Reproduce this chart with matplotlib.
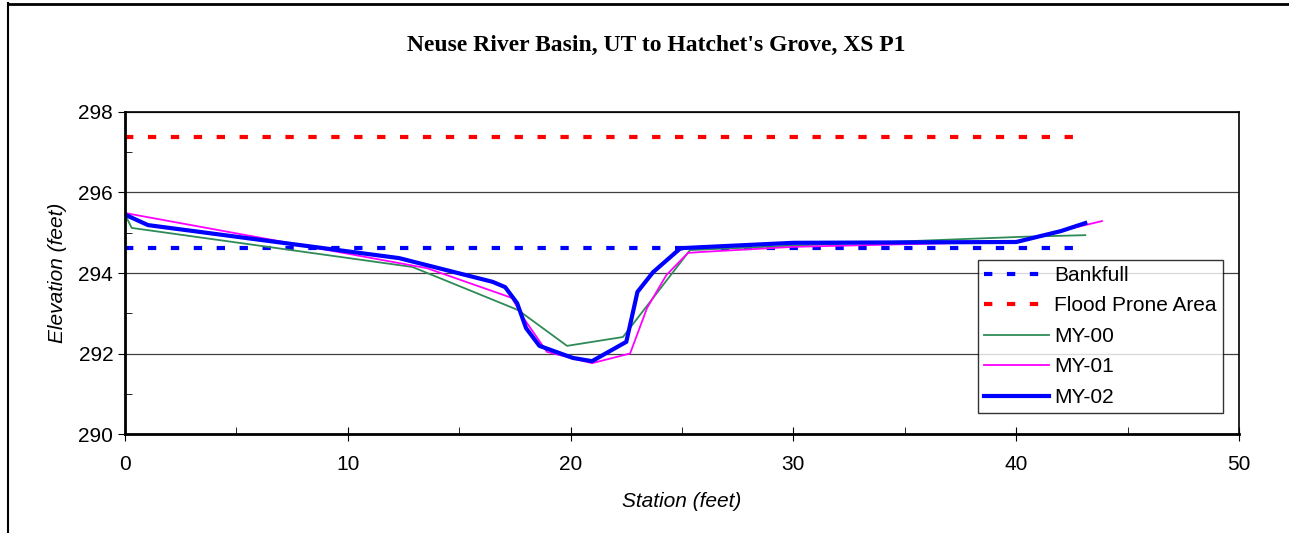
import matplotlib
matplotlib.use('Agg')
from matplotlib import pyplot as plt
from matplotlib.lines import Line2D

plt.rcParams['font.family'] = ['Liberation Sans', 'DejaVu Sans']

# series
bankfull_x = [0, 43.0]
bankfull_y = [294.62, 294.62]
flood_x = [0, 43.0]
flood_y = [297.38, 297.38]

my00_x = [0, 0.3, 12.9, 17.64, 19.84, 22.35, 25.36, 30.0, 40.3, 43.1]
my00_y = [295.45, 295.12, 294.15, 293.08, 292.19, 292.41, 294.57, 294.68, 294.9, 294.94]

my01_x = [0, 13.55, 17.37, 17.86, 18.94, 20.96, 22.67, 23.43, 24.3, 25.27, 25.8,
          30.0, 40.0, 43.85]
my01_y = [295.49, 294.12, 293.38, 292.9, 292.04, 291.76, 292.0, 293.13, 293.95,
          294.5, 294.52, 294.65, 294.78, 295.29]

my02_x = [0, 1.03, 12.3, 16.5, 17.06, 17.6, 18.0, 18.6, 20.1, 20.96, 22.5, 23.0,
          23.7, 24.9, 25.05, 30.0, 40.0, 42.0, 43.1]
my02_y = [295.45, 295.19, 294.37, 293.78, 293.65, 293.25, 292.63, 292.19, 291.89,
          291.81, 292.29, 293.53, 294.02, 294.6, 294.62, 294.75, 294.77, 295.04, 295.24]

fig = plt.figure(figsize=(12.89, 5.33), dpi=100)
ax = fig.add_axes([0.097, 0.1857, 0.8642, 0.6042])

dash = (0, (2, 3.5))
ax.plot(bankfull_x, bankfull_y, color='#0000ff', lw=3, ls=dash, label='Bankfull')
ax.plot(flood_x, flood_y, color='#ff0000', lw=3, ls=dash, label='Flood Prone Area')
ax.plot(my00_x, my00_y, color='#2e8b57', lw=1.3, label='MY-00')
ax.plot(my01_x, my01_y, color='#ff00ff', lw=1.3, label='MY-01')
ax.plot(my02_x, my02_y, color='#0000ff', lw=3, label='MY-02')

ax.set_xlim(0, 50)
ax.set_ylim(290, 298)
ax.set_xticks(range(0, 51, 10))
ax.set_xticks(range(5, 50, 10), minor=True)
ax.set_yticks(range(290, 299, 2))
ax.set_yticks(range(291, 298, 2), minor=True)
ax.yaxis.grid(True, which='major', color='#404040', lw=0.9)
ax.tick_params(axis='x', which='major', direction='inout', length=10, labelsize=15, pad=10)
ax.tick_params(axis='x', which='minor', direction='in', length=5)
ax.tick_params(axis='y', which='major', direction='out', length=5, labelsize=15)
ax.tick_params(axis='y', which='minor', direction='in', length=5)
for s in ax.spines.values():
    s.set_color('black')
ax.spines['left'].set_linewidth(2)
ax.spines['bottom'].set_linewidth(2)
ax.spines['top'].set_linewidth(1.2)
ax.spines['right'].set_linewidth(1.2)

ax.set_xlabel('Station (feet)', fontsize=15, style='italic', labelpad=13)
ax.set_ylabel('Elevation (feet)', fontsize=15, style='italic', labelpad=8)
fig.text(0.509, 0.915, "Neuse River Basin, UT to Hatchet's Grove, XS P1", ha='center', va='center',
         fontsize=17, fontweight='bold', family='Liberation Serif')

leg = ax.legend(loc='lower right', bbox_to_anchor=(0.9856, 0.065), borderaxespad=0,
                fontsize=15, frameon=True, fancybox=False, handlelength=3.1,
                labelspacing=0.55, borderpad=0.3, handletextpad=0.25)
leg.get_frame().set_edgecolor('black')
leg.get_frame().set_linewidth(1)

# figure border lines
fig.add_artist(Line2D([0.006, 0.006], [0, 0.995], color='black', lw=1.5, transform=fig.transFigure))
fig.add_artist(Line2D([0.006, 1], [0.992, 0.992], color='black', lw=2, transform=fig.transFigure))

fig.savefig('out.png', dpi=100)
